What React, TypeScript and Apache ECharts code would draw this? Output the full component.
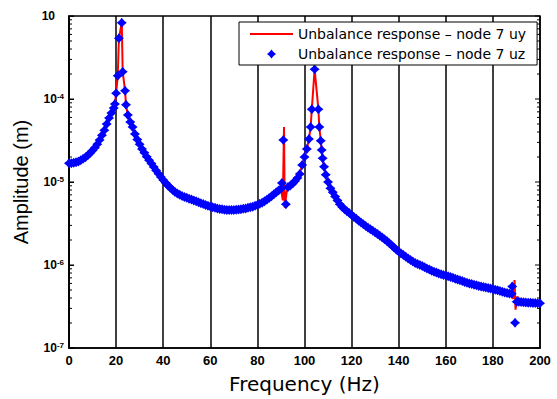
import React, { useEffect, useRef } from "react";
import * as echarts from "echarts";

// Shared frequency grid (Hz) and amplitude (m) where both responses coincide
const freqHz = [
  0, 1, 2, 3, 4, 5, 6, 7, 8, 9,
  10, 11, 12, 13, 14, 15, 16, 17, 18, 19,
  19.5, 20, 20.7, 21.2, 22.4, 22.8, 23.8, 24.2, 25, 26,
  27, 28, 29, 30, 31, 32, 33, 34, 35, 36,
  37, 38, 39, 40, 41, 42, 43, 44, 45, 46,
  47, 48, 49, 50, 51, 52, 53, 54, 55, 56,
  57, 58, 59, 60, 61, 62, 63, 64, 65, 66,
  67, 68, 69, 70, 71, 72, 73, 74, 75, 76,
  77, 78, 79, 80, 81, 82, 83, 84, 85, 86,
  87, 88, 89, 90, 93, 94, 95, 96, 97, 98,
  99, 100, 101, 101.9, 102.6, 103.1, 104.3, 105.9, 106.3, 106.9,
  107.3, 107.7, 108.3, 109, 110, 111, 112, 113, 114, 115,
  116, 117, 118, 119, 120, 121, 122, 123, 124, 125,
  126, 127, 128, 129, 130, 131, 132, 133, 134, 135,
  136, 137, 138, 139, 140, 141, 142, 143, 144, 145,
  146, 147, 148, 149, 150, 151, 152, 153, 154, 155,
  156, 157, 158, 159, 160, 161, 162, 163, 164, 165,
  166, 167, 168, 169, 170, 171, 172, 173, 174, 175,
  176, 177, 178, 179, 180, 181, 182, 183, 184, 185,
  186, 187, 188, 191, 192, 193, 194, 195, 196, 197,
  198, 199, 200,
];

const ampBase = [
  1.68e-5, 1.68e-5, 1.7e-5, 1.73e-5, 1.77e-5, 1.83e-5, 1.9e-5, 1.99e-5, 2.1e-5, 2.24e-5,
  2.4e-5, 2.58e-5, 2.85e-5, 3.2e-5, 3.65e-5, 4.2e-5, 5.0e-5, 5.9e-5, 6.8e-5, 7.8e-5,
  8.7e-5, 1.17e-4, 1.91e-4, 5.4e-4, 8.3e-4, 2.13e-4, 1.26e-4, 8.5e-5, 6.4e-5, 5.3e-5,
  4.6e-5, 3.8e-5, 3.25e-5, 2.85e-5, 2.5e-5, 2.25e-5, 2.02e-5, 1.83e-5, 1.67e-5, 1.52e-5,
  1.38e-5, 1.26e-5, 1.15e-5, 1.06e-5, 9.8e-6, 9.1e-6, 8.5e-6, 8.0e-6, 7.6e-6, 7.25e-6,
  7.0e-6, 6.8e-6, 6.6e-6, 6.45e-6, 6.3e-6, 6.15e-6, 6.0e-6, 5.85e-6, 5.7e-6, 5.56e-6,
  5.43e-6, 5.3e-6, 5.18e-6, 5.07e-6, 4.97e-6, 4.88e-6, 4.8e-6, 4.73e-6, 4.68e-6, 4.64e-6,
  4.61e-6, 4.6e-6, 4.6e-6, 4.61e-6, 4.63e-6, 4.66e-6, 4.7e-6, 4.75e-6, 4.81e-6, 4.88e-6,
  4.96e-6, 5.05e-6, 5.16e-6, 5.3e-6, 5.46e-6, 5.64e-6, 5.85e-6, 6.1e-6, 6.4e-6, 6.75e-6,
  7.1e-6, 7.5e-6, 7.9e-6, 8.3e-6, 8.7e-6, 9.1e-6, 9.6e-6, 1.03e-5, 1.12e-5, 1.25e-5,
  1.6e-5, 2.0e-5, 2.5e-5, 3.3e-5, 4.6e-5, 7.5e-5, 2.28e-4, 7.5e-5, 4.6e-5, 3.15e-5,
  2.43e-5, 1.93e-5, 1.53e-5, 1.22e-5, 1.0e-5, 8.4e-6, 7.5e-6, 6.7e-6, 6.0e-6, 5.4e-6,
  5.0e-6, 4.7e-6, 4.45e-6, 4.22e-6, 4.0e-6, 3.8e-6, 3.6e-6, 3.42e-6, 3.25e-6, 3.1e-6,
  2.95e-6, 2.82e-6, 2.7e-6, 2.58e-6, 2.47e-6, 2.36e-6, 2.25e-6, 2.14e-6, 2.04e-6, 1.94e-6,
  1.83e-6, 1.73e-6, 1.63e-6, 1.53e-6, 1.45e-6, 1.38e-6, 1.32e-6, 1.26e-6, 1.2e-6, 1.15e-6,
  1.1e-6, 1.06e-6, 1.03e-6, 1.0e-6, 9.7e-7, 9.4e-7, 9.1e-7, 8.8e-7, 8.55e-7, 8.3e-7,
  8.1e-7, 7.9e-7, 7.75e-7, 7.6e-7, 7.45e-7, 7.3e-7, 7.15e-7, 7.0e-7, 6.85e-7, 6.7e-7,
  6.55e-7, 6.4e-7, 6.25e-7, 6.1e-7, 6.0e-7, 5.9e-7, 5.8e-7, 5.7e-7, 5.6e-7, 5.5e-7,
  5.42e-7, 5.35e-7, 5.28e-7, 5.22e-7, 5.15e-7, 5.05e-7, 4.95e-7, 4.85e-7, 4.75e-7, 4.65e-7,
  4.6e-7, 4.55e-7, 4.5e-7, 3.6e-7, 3.58e-7, 3.56e-7, 3.54e-7, 3.52e-7, 3.5e-7, 3.49e-7,
  3.48e-7, 3.47e-7, 3.46e-7,
];

// Points where the two responses differ (near 91 Hz and 189 Hz)
const uySpikeFreq = [90.8, 91.3, 91.6, 92.4, 188.6, 189.2, 189.6, 190.4];
const uySpikeAmp = [6.0e-6, 4.6e-5, 4.9e-6, 7.5e-6, 3.9e-7, 6.6e-7, 2.9e-7, 4.2e-7];
const uzSpikeFreq = [90.4, 91, 92.1, 188.2, 189.4, 190.1];
const uzSpikeAmp = [9.7e-6, 3.2e-5, 5.4e-6, 5.5e-7, 2.02e-7, 3.6e-7];

const xTicks = [0, 20, 40, 60, 80, 100, 120, 140, 160, 180, 200];
const decades = [-7, -6, -5, -4, -3];
const minorMultipliers = [2, 3, 4, 5, 6, 7, 8, 9];

const UY_NAME = "Unbalance response \u2013 node 7 uy";
const UZ_NAME = "Unbalance response \u2013 node 7 uz";

function buildSeries(extraF: number[], extraA: number[]) {
  const pts: number[][] = freqHz.map((f, i) => [f, ampBase[i]]);
  extraF.forEach((f, i) => pts.push([f, extraA[i]]));
  pts.sort((a, b) => a[0] - b[0]);
  return pts;
}

const STAR = "path://M0,-10 L4.5,-4.5 L10,0 L4.5,4.5 L0,10 L-4.5,4.5 L-10,0 L-4.5,-4.5 Z";
const LINE_ICON = "path://M0,0 L43,0 L43,2 L0,2 Z";

export default function App() {
  const ref = useRef<HTMLDivElement>(null);
  useEffect(() => {
    if (!ref.current) return;
    const chart = echarts.init(ref.current, undefined, { renderer: "svg" });

    const tickData: number[][] = [];
    decades.forEach((d) => {
      tickData.push([xTicks[0], Math.pow(10, d), 1]);
      if (d < -3) minorMultipliers.forEach((m) => tickData.push([xTicks[0], m * Math.pow(10, d), 0]));
    });

    chart.setOption({
      animation: false,
      backgroundColor: "#fff",
      grid: {
        left: 69,
        right: 17,
        top: 16,
        bottom: 51,
        show: true,
        borderColor: "#000",
        borderWidth: 1.5,
        backgroundColor: "transparent",
      },
      legend: {
        left: 239,
        top: 22,
        orient: "vertical",
        backgroundColor: "#fff",
        borderColor: "#000",
        borderWidth: 1,
        borderRadius: 0,
        padding: [4, 11, 3, 11],
        itemWidth: 43,
        itemHeight: 9,
        itemGap: 4,
        itemTextGap: 9,
        textStyle: { fontFamily: "DejaVu Sans", fontSize: 14, color: "#000", lineHeight: 16 },
        data: [
          { name: UY_NAME, icon: LINE_ICON },
          { name: UZ_NAME, icon: STAR },
        ],
        z: 10,
      },
      xAxis: {
        type: "value",
        min: xTicks[0],
        max: xTicks[xTicks.length - 1],
        interval: 20,
        name: "Frequency (Hz)",
        nameLocation: "middle",
        nameGap: 26,
        nameTextStyle: { fontFamily: "DejaVu Sans", fontSize: 20, color: "#000" },
        axisLine: { show: true, lineStyle: { color: "#000", width: 1.5 } },
        axisTick: { show: false },
        axisLabel: {
          margin: 6,
          color: "#000",
          fontFamily: "Liberation Sans",
          fontWeight: "bold",
          fontSize: 13,
        },
        splitLine: { show: true, lineStyle: { color: "#000", width: 1.5 } },
      },
      yAxis: {
        type: "log",
        logBase: 10,
        min: 1e-7,
        max: 1e-3,
        name: "Amplitude (m)",
        nameLocation: "middle",
        nameGap: 35,
        nameTextStyle: { fontFamily: "Liberation Sans", fontSize: 20, color: "#000" },
        axisLine: { show: true, lineStyle: { color: "#000", width: 1.5 } },
        axisTick: { show: true, inside: true, length: 5, lineStyle: { color: "#000", width: 1 } },
        splitLine: { show: false },
        axisLabel: {
          margin: 5,
          formatter: (v: number) => {
            const e = Math.round(Math.log10(v));
            if (e === -3) return "{bt|10}";
            return `{b|10}{s|${e}}`;
          },
          rich: {
            b: { fontFamily: "Liberation Sans", fontWeight: "bold", fontSize: 12, color: "#000", lineHeight: 14 },
            bt: { fontFamily: "Liberation Sans", fontWeight: "bold", fontSize: 12, color: "#000", lineHeight: 14, padding: [0, 9, 0, 0] },
            s: { fontFamily: "Liberation Sans", fontWeight: "bold", fontSize: 8, color: "#000", lineHeight: 8, verticalAlign: "top" },
          },
        },
      },
      series: [
        {
          type: "custom",
          name: "ticks",
          silent: true,
          z: 1,
          clip: false,
          data: tickData,
          renderItem: (params: any, api: any) => {
            const cs = params.coordSys;
            const y = api.coord([api.value(0), api.value(1)])[1];
            const len = api.value(2) ? 5 : 3;
            const xl = cs.x;
            const xr = cs.x + cs.width;
            return {
              type: "group",
              children: [
                { type: "line", shape: { x1: xl, y1: y, x2: xl + len, y2: y }, style: { stroke: "#000", lineWidth: 1 } },
                { type: "line", shape: { x1: xr, y1: y, x2: xr - len, y2: y }, style: { stroke: "#000", lineWidth: 1 } },
              ],
            };
          },
        },
        {
          type: "line",
          name: UY_NAME,
          data: buildSeries(uySpikeFreq, uySpikeAmp),
          symbol: "none",
          showSymbol: false,
          lineStyle: { color: "#ff0000", width: 2 },
          itemStyle: { color: "#ff0000" },
          z: 3,
        },
        {
          type: "scatter",
          name: UZ_NAME,
          data: buildSeries(uzSpikeFreq, uzSpikeAmp),
          symbol: STAR,
          symbolSize: 10,
          itemStyle: { color: "#0000ff", opacity: 1 },
          z: 4,
        },
      ],
    });
    return () => chart.dispose();
  }, []);
  return (
    <div
      ref={ref}
      style={{ position: "fixed", left: 0, top: 0, width: 557, height: 399 }}
    />
  );
}
